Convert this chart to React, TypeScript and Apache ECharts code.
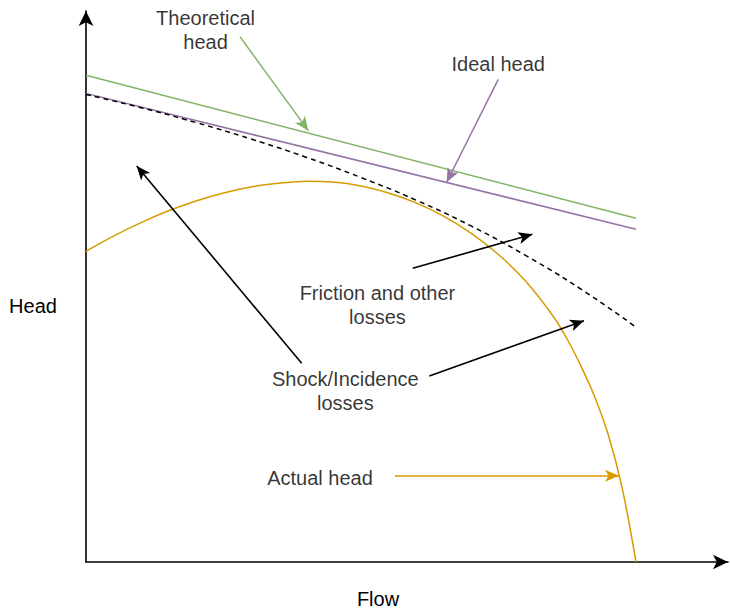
import React, { useEffect, useRef } from "react";
import * as echarts from "echarts";

// Axis extents (flow 0..100 spans the drawn curves; extra room for the arrows)
const xMax = 116.73;
const yMax = 100.18;

// Straight head lines (flow 0 and 100)
const lineFlow = [0, 100];
const theoreticalHead = [88.5, 62.5];
const idealHead = [85.2, 60.5];

// Ideal head less friction (dashed)
const lossFlow = [0, 10, 20, 30, 40, 50, 60, 70, 80, 90, 100];
const lossHead = [85.0, 82.6, 79.9, 76.9, 73.6, 69.9, 65.8, 61.1, 55.7, 49.6, 42.7];

// Actual head curve
const actualFlow = [0, 5, 10, 15, 20, 25, 30, 35, 40, 45, 50, 55, 60, 65, 70, 75, 80, 85, 87.5, 90, 92.5, 95, 97.5, 100];
const actualHead = [56.5, 59.25, 61.7, 63.85, 65.65, 67.1, 68.2, 68.85, 69.24, 69.07, 68.35, 67.1, 65.3, 62.9, 59.8, 55.9, 51.0, 44.6, 40.5, 35.6, 30.0, 23.0, 13.4, 0];

// Annotation texts and their centres (data units)
const labelTexts = ["Theoretical\nhead", "Ideal head", "Friction and other\nlosses", "Shock/Incidence\nlosses", "Actual head"];
const labelFlow = [21.73, 74.96, 52.99, 47.15, 42.55];
const labelHead = [96.8, 90.5, 46.64, 31.09, 15.27];

// Annotation arrows (from -> to, data units)
const arrowFromFlow = [28.0, 74.96, 39.22, 59.4, 62.42, 56.18];
const arrowFromHead = [95.5, 87.76, 36.13, 53.4, 33.82, 15.69];
const arrowToFlow = [40.42, 65.58, 9.22, 81.16, 90.55, 96.91];
const arrowToHead = [78.42, 69.05, 72.0, 59.58, 43.87, 15.69];
const arrowKind = ["theoretical", "ideal", "loss", "loss", "loss", "actual"];

const colors: Record<string, string> = {
  theoretical: "#82b366",
  ideal: "#9673a6",
  loss: "#000000",
  actual: "#d79b00",
};

const FONT = '"Liberation Sans", Arial, Helvetica, sans-serif';

export default function App() {
  const ref = useRef<HTMLDivElement>(null);
  useEffect(() => {
    if (!ref.current) return;
    const chart = echarts.init(ref.current, null, { renderer: "svg" });

    const pairs = (xs: number[], ys: number[]) => xs.map((x, i) => [x, ys[i]]);

    const arrows = arrowKind.map((k, i) => [
      { coord: [arrowFromFlow[i], arrowFromHead[i]] },
      {
        coord: [arrowToFlow[i], arrowToHead[i]],
        lineStyle: { color: colors[k], width: k === "loss" ? 1.6 : 1.5, type: "solid" },
      },
    ]);

    chart.setOption({
      animation: false,
      grid: { left: 86, right: 2, top: 11, bottom: 47, containLabel: false },
      xAxis: {
        type: "value",
        min: 0,
        max: xMax,
        axisLine: {
          show: true,
          symbol: ["none", "arrow"],
          symbolSize: [11, 15],
          lineStyle: { color: "#000", width: 1.6 },
        },
        axisTick: { show: false },
        axisLabel: { show: false },
        splitLine: { show: false },
      },
      yAxis: {
        type: "value",
        min: 0,
        max: yMax,
        axisLine: {
          show: true,
          symbol: ["none", "arrow"],
          symbolSize: [11, 15],
          lineStyle: { color: "#000", width: 1.6 },
        },
        axisTick: { show: false },
        axisLabel: { show: false },
        splitLine: { show: false },
      },
      graphic: [
        {
          type: "text",
          x: 33,
          y: 306,
          style: { text: "Head", fill: "#000", font: `20px ${FONT}`, align: "center", verticalAlign: "middle" },
        },
        {
          type: "text",
          x: 378,
          y: 599,
          style: { text: "Flow", fill: "#000", font: `20px ${FONT}`, align: "center", verticalAlign: "middle" },
        },
      ],
      series: [
        {
          name: "Theoretical head",
          type: "line",
          data: pairs(lineFlow, theoreticalHead),
          showSymbol: false,
          silent: true,
          lineStyle: { color: colors.theoretical, width: 1.5 },
        },
        {
          name: "Ideal head",
          type: "line",
          data: pairs(lineFlow, idealHead),
          showSymbol: false,
          silent: true,
          lineStyle: { color: colors.ideal, width: 1.5 },
        },
        {
          name: "Ideal less friction",
          type: "line",
          data: pairs(lossFlow, lossHead),
          showSymbol: false,
          silent: true,
          smooth: 0.5,
          lineStyle: { color: "#000", width: 1.5, type: [5, 4] },
        },
        {
          name: "Actual head",
          type: "line",
          data: pairs(actualFlow, actualHead),
          showSymbol: false,
          silent: true,
          smooth: 0.35,
          lineStyle: { color: colors.actual, width: 1.5 },
        },
        {
          name: "Annotations",
          type: "scatter",
          symbolSize: 1,
          silent: true,
          itemStyle: { color: "rgba(0,0,0,0)" },
          data: labelTexts.map((t, i) => ({ value: [labelFlow[i], labelHead[i]], name: t })),
          label: {
            show: true,
            position: "inside",
            formatter: (p: any) => p.name,
            color: "#000",
            fontSize: 20,
            fontFamily: FONT,
            lineHeight: 24,
            align: "center",
            verticalAlign: "middle",
          },
          markLine: {
            silent: true,
            animation: false,
            symbol: ["none", "arrow"],
            symbolSize: [9, 14],
            label: { show: false },
            emphasis: { disabled: true },
            data: arrows,
          },
        },
      ],
    });
    return () => chart.dispose();
  }, []);

  return (
    <div
      ref={ref}
      style={{ position: "fixed", left: 0, top: 0, width: 730, height: 609, background: "#fff" }}
    />
  );
}
